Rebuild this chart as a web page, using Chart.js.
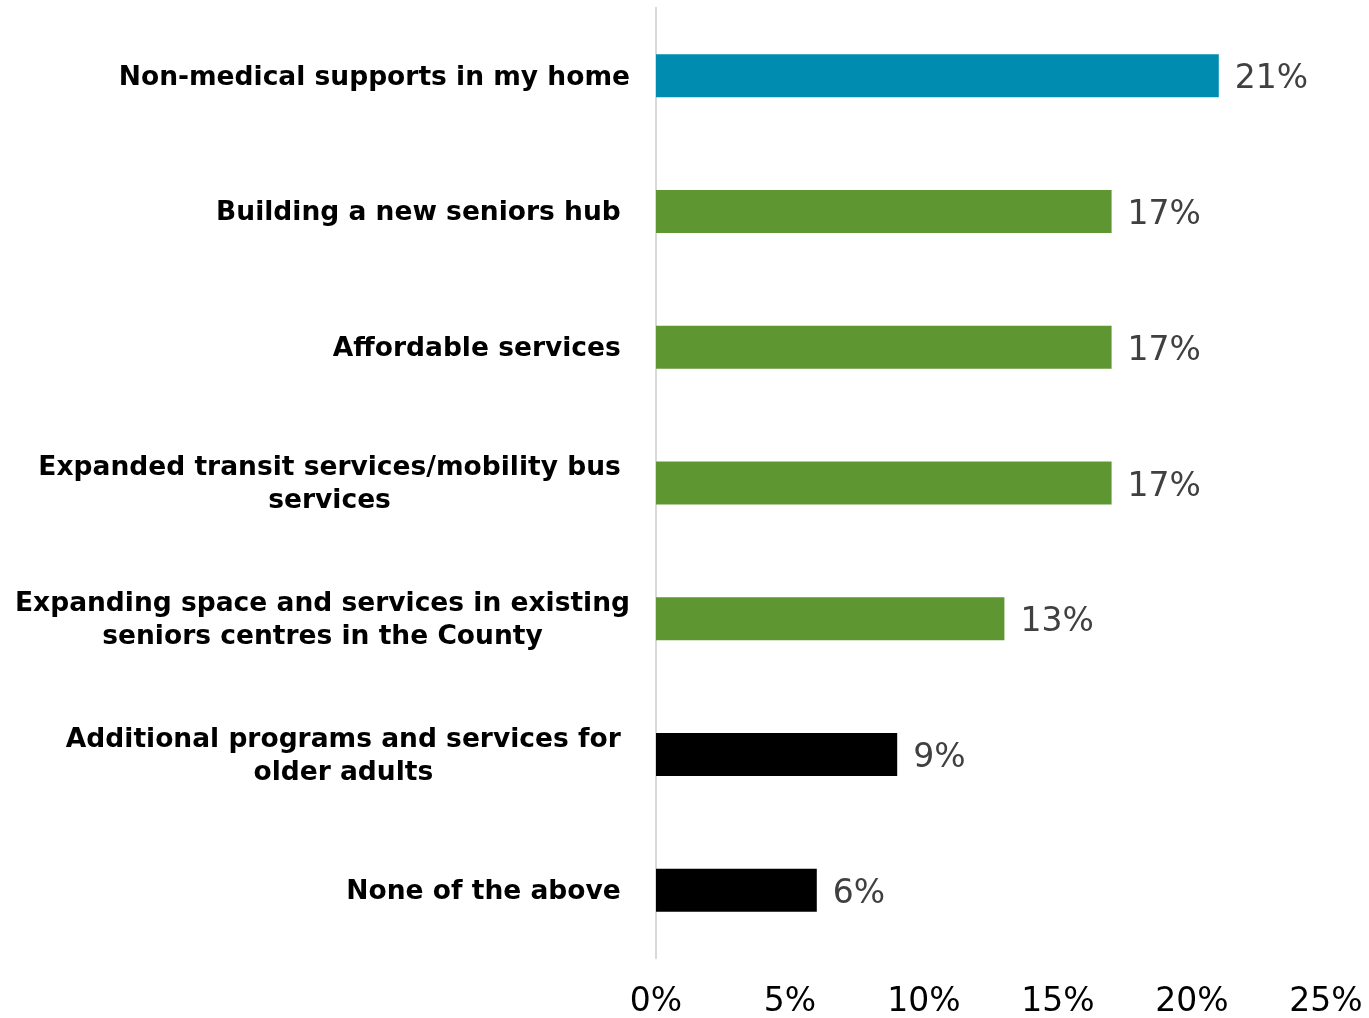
<!DOCTYPE html>
<html>
<head>
<meta charset="utf-8">
<script src="https://cdn.jsdelivr.net/npm/chart.js@4"></script>
<style>
  html, body { margin: 0; padding: 0; background: #ffffff; }
  #wrap { width: 1369px; height: 1018px; position: relative; }
</style>
</head>
<body>
<div id="wrap"><canvas id="chart"></canvas></div>
<script>
// Survey answers (share of respondents)
const categories = [
  ["Non-medical supports in my home"],
  ["Building a new seniors hub "],
  ["Affordable services "],
  ["Expanded transit services/mobility bus ", "services"],
  ["Expanding space and services in existing", "seniors centres in the County"],
  ["Additional programs and services for ", "older adults"],
  ["None of the above "]
];
const shares = [21, 17, 17, 17, 13, 9, 6];
const barColors = ["#008BB0", "#5E9732", "#5E9732", "#5E9732", "#5E9732", "#000000", "#000000"];
const tickValues = [0, 5, 10, 15, 20, 25];

const LABEL_FONT = "bold 26.5px 'DejaVu Sans', Verdana, sans-serif";
const VALUE_FONT = "33px 'DejaVu Sans', Verdana, sans-serif";
const LABEL_RIGHT = 630;
const LINE_H = 33;

// Category labels: each block right-aligned, lines centred within the block
const categoryLabels = {
  id: 'categoryLabels',
  afterDraw(chart) {
    const ctx = chart.ctx;
    const y = chart.scales.y;
    ctx.save();
    ctx.font = LABEL_FONT;
    ctx.fillStyle = '#000000';
    ctx.textAlign = 'center';
    ctx.textBaseline = 'middle';
    categories.forEach((lines, i) => {
      const yc = y.getPixelForTick(i) + 2;
      let maxFull = 0, maxTrim = 0, gap = 0;
      lines.forEach(l => {
        const fw = ctx.measureText(l).width;
        const tw = ctx.measureText(l.trimEnd()).width;
        if (fw > maxFull) { maxFull = fw; gap = fw - tw; }
        if (tw > maxTrim) maxTrim = tw;
      });
      const right = LABEL_RIGHT - gap;
      const cx = right - maxTrim / 2;
      lines.forEach((l, j) => {
        ctx.fillText(l.trimEnd(), cx, yc + (j - (lines.length - 1) / 2) * LINE_H);
      });
    });
    ctx.restore();
  }
};

// Value labels at the end of each bar
const valueLabels = {
  id: 'valueLabels',
  afterDatasetsDraw(chart) {
    const ctx = chart.ctx;
    const meta = chart.getDatasetMeta(0);
    ctx.save();
    ctx.font = VALUE_FONT;
    ctx.fillStyle = '#404040';
    ctx.textAlign = 'left';
    ctx.textBaseline = 'middle';
    meta.data.forEach((bar, i) => {
      ctx.fillText(shares[i] + '%', bar.x + 16, bar.y + 4);
    });
    ctx.restore();
  }
};

new Chart(document.getElementById('chart'), {
  type: 'bar',
  data: {
    labels: categories,
    datasets: [{
      data: shares,
      backgroundColor: barColors,
      borderWidth: 0,
      categoryPercentage: 1,
      barPercentage: 0.317
    }]
  },
  options: {
    indexAxis: 'y',
    responsive: true,
    maintainAspectRatio: false,
    animation: false,
    layout: { padding: { top: 8, right: 43, left: 0, bottom: 0 } },
    plugins: {
      legend: { display: false },
      tooltip: { enabled: false }
    },
    scales: {
      x: {
        min: 0,
        max: 25,
        afterBuildTicks(scale) {
          scale.ticks = tickValues.map(v => ({ value: v }));
        },
        afterFit(scale) {
          scale.height = 60;
          scale.paddingLeft = 0;
          scale.paddingRight = 0;
        },
        grid: { display: false, drawTicks: false },
        border: { display: false },
        ticks: {
          padding: 25,
          color: '#000000',
          font: { family: "'DejaVu Sans', Verdana, sans-serif", size: 33 },
          callback: v => v + '%'
        }
      },
      y: {
        afterFit(scale) { scale.width = 656; },
        grid: { display: false, drawTicks: false },
        border: { display: true, color: '#D9D9D9', width: 2 },
        ticks: { display: false }
      }
    }
  },
  plugins: [categoryLabels, valueLabels]
});
</script>
</body>
</html>
